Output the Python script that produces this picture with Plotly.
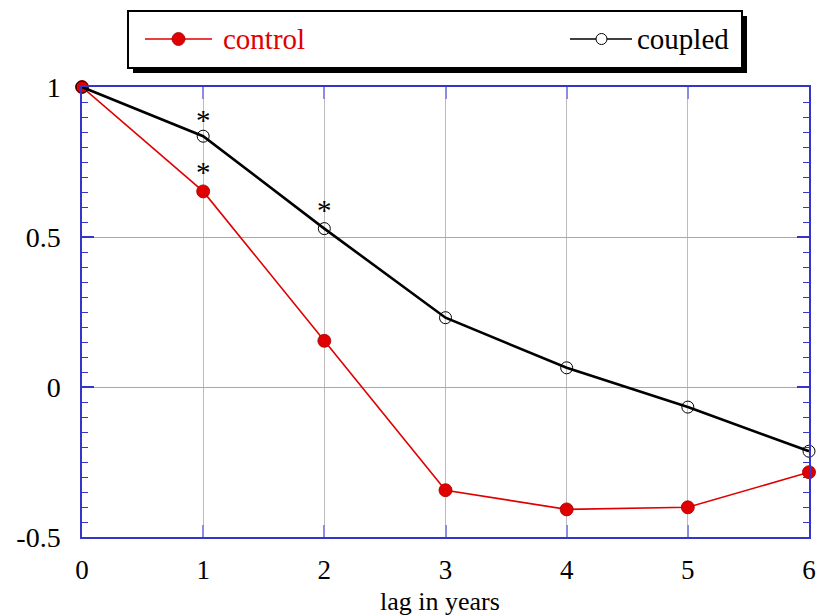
import plotly.graph_objects as go

lags = [0, 1, 2, 3, 4, 5, 6]
control = [1.0, 0.652, 0.154, -0.344, -0.408, -0.401, -0.284]
coupled = [1.0, 0.836, 0.528, 0.231, 0.064, -0.067, -0.214]
sig_control = [1]
sig_coupled = [1, 2]
x_ticks = [0, 1, 2, 3, 4, 5, 6]
y_ticks = [-0.5, 0, 0.5, 1]
y_tick_text = ["-0.5", "0", "0.5", "1"]

FONT = "'Liberation Serif', 'Times New Roman', 'DejaVu Serif', serif"
BLUE = "#3535c8"
L, R, T, B = 82, 809, 87, 537
W, H = 817, 616

def px(x):
    return (x - L) / (R - L)

def py(y):
    return (B - y) / (B - T)

fig = go.Figure()
fig.add_trace(go.Scatter(x=lags, y=control, mode="lines+markers", name="control",
                         line=dict(color="#e00000", width=1.6),
                         marker=dict(symbol="circle", size=13, color="#e00000",
                                     line=dict(color="#a00000", width=0.8)),
                         cliponaxis=False, showlegend=False))
fig.add_trace(go.Scatter(x=lags, y=coupled, mode="lines+markers", name="coupled",
                         line=dict(color="black", width=2.6),
                         marker=dict(symbol="circle-open", size=12, color="black",
                                     line=dict(color="black", width=1)),
                         cliponaxis=False, showlegend=False))

annotations = []
for i in sig_control:
    annotations.append(dict(x=lags[i], y=control[i], text="*", showarrow=False,
                            yshift=19, font=dict(family=FONT, size=29, color="black")))
for i in sig_coupled:
    annotations.append(dict(x=lags[i], y=coupled[i], text="*", showarrow=False,
                            yshift=16 if i == 1 else 19,
                            font=dict(family=FONT, size=29, color="black")))

# legend (manual)
shapes = []
shapes.append(dict(type="rect", xref="paper", yref="paper",
                   x0=px(133), x1=px(747), y0=py(73), y1=py(16),
                   fillcolor="black", line=dict(width=0), layer="above"))
shapes.append(dict(type="rect", xref="paper", yref="paper",
                   x0=px(128), x1=px(742), y0=py(68), y1=py(11),
                   fillcolor="white", line=dict(color="black", width=2), layer="above"))
shapes.append(dict(type="line", xref="paper", yref="paper",
                   x0=px(145), x1=px(212), y0=py(39), y1=py(39),
                   line=dict(color="#e00000", width=1.6), layer="above"))
shapes.append(dict(type="circle", xref="paper", yref="paper",
                   x0=px(172), x1=px(185), y0=py(45.5), y1=py(32.5),
                   fillcolor="#e00000", line=dict(color="#a00000", width=0.8), layer="above"))
shapes.append(dict(type="line", xref="paper", yref="paper",
                   x0=px(570), x1=px(632), y0=py(39), y1=py(39),
                   line=dict(color="black", width=1.4), layer="above"))
shapes.append(dict(type="circle", xref="paper", yref="paper",
                   x0=px(596), x1=px(607), y0=py(44.5), y1=py(33.5),
                   fillcolor="white", line=dict(color="black", width=1), layer="above"))
annotations.append(dict(xref="paper", yref="paper", x=px(221), y=py(39), text="control",
                        xanchor="left", yanchor="middle", showarrow=False,
                        font=dict(family=FONT, size=29, color="#e00000")))
annotations.append(dict(xref="paper", yref="paper", x=px(635), y=py(39), text="coupled",
                        xanchor="left", yanchor="middle", showarrow=False,
                        font=dict(family=FONT, size=29, color="black")))
annotations.append(dict(xref="paper", yref="paper", x=px(440), y=py(601), text="lag in years",
                        xanchor="center", yanchor="middle", showarrow=False,
                        font=dict(family=FONT, size=26, color="black")))

fig.update_layout(
    template="none",
    width=W, height=H,
    margin=dict(l=L, r=W - R, t=T, b=H - B, autoexpand=False),
    paper_bgcolor="white", plot_bgcolor="white",
    font=dict(family=FONT, size=28, color="black"),
    showlegend=False,
    shapes=shapes, annotations=annotations,
    xaxis=dict(range=[0, 6], tickvals=x_ticks, ticktext=[str(v) for v in x_ticks],
               automargin=False,
               showgrid=True, gridcolor="#bcbcbc", gridwidth=1,
               zeroline=False, showline=True, linecolor=BLUE, linewidth=1.5,
               mirror="ticks", ticks="inside", ticklen=12, tickcolor="#8c8ce0", tickwidth=2,
               ticklabelstandoff=8, tickfont=dict(family=FONT, size=27)),
    yaxis=dict(range=[-0.5, 1], tickvals=y_ticks, ticktext=y_tick_text,
               automargin=False,
               showgrid=True, gridcolor="#a8a8a8", gridwidth=1,
               zeroline=False, showline=True, linecolor=BLUE, linewidth=1.5,
               mirror="ticks", ticks="inside", ticklen=12, tickcolor=BLUE, tickwidth=1.5,
               ticklabelstandoff=14, tickfont=dict(family=FONT, size=28),
               minor=dict(dtick=0.05, ticks="inside", ticklen=6, tickcolor=BLUE,
                          tickwidth=1, showgrid=False)),
)

fig.write_html("out.html")
